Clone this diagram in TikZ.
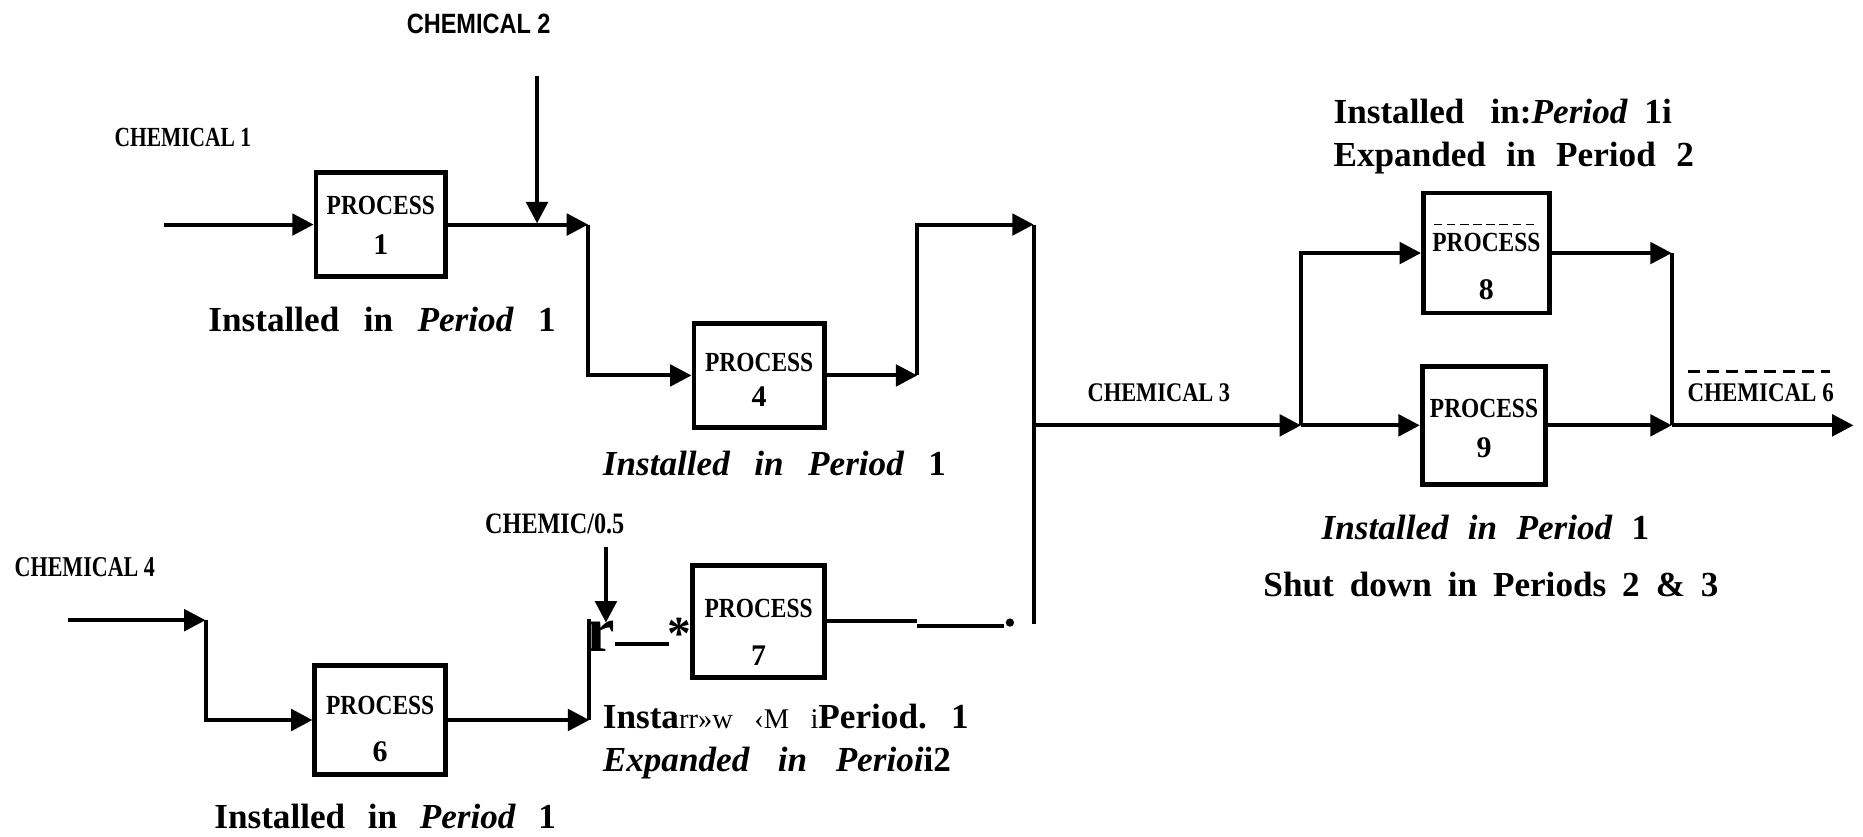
\documentclass[tikz,border=0pt]{standalone}
\usepackage{fontspec}
\setmainfont{Liberation Serif}
\newfontfamily\sansf{Liberation Sans}
\usetikzlibrary{arrows.meta,calc}
\newcommand{\fitbox}[3]{\resizebox{#1}{#2}{#3}}
\newcommand{\wsp}[1]{\spaceskip=#1\relax}
\newcommand{\procword}{\fitbox{45.5pt}{7.7pt}{\bfseries PROCESS}}
\newcommand{\digitfont}{\fontsize{12.6}{14}\selectfont\bfseries}
\begin{document}
\begin{tikzpicture}[x=0.5pt,y=-0.5pt,
  procbox/.style={draw, line width=2pt, inner sep=0pt},
  wire/.style={line width=1.7pt, line join=miter},
  arr/.style={wire, -{Triangle[length=9pt,width=9pt]}},
  ptxt/.style={inner sep=0pt},
  chem/.style={inner sep=0pt, anchor=base west},
  capt/.style={inner sep=0pt, anchor=base west, font=\fontsize{14.8}{17}\selectfont\bfseries},
  garble/.style={inner sep=0pt, anchor=base, font=\bfseries},
]
\useasboundingbox (0,0) rectangle (1568,704);

% ---------- process boxes ----------
\node[procbox, minimum width=54.5pt, minimum height=44pt] (p1) at (320.5,189) {};
\node[procbox, minimum width=55pt, minimum height=43.5pt] (p4) at (639,316) {};
\node[procbox, minimum width=55pt, minimum height=46pt] (p6) at (320,606) {};
\node[procbox, minimum width=55.5pt, minimum height=47pt] (p7) at (638.5,523) {};
\node[procbox, minimum width=53pt, minimum height=50.5pt] (p8) at (1251,213) {};
\node[procbox, minimum width=52pt, minimum height=49.5pt] (p9) at (1249,358) {};

\node[ptxt] (p1a) at ($(p1)+(0,-16)$) {\procword};
\node[ptxt] (p1b) at ($(p1)+(0,17)$) {\digitfont 1};
\node[ptxt] (p4a) at ($(p4)+(0,-11)$) {\procword};
\node[ptxt] (p4b) at ($(p4)+(0,18)$) {\digitfont 4};
\node[ptxt] (p6a) at ($(p6)+(0,-12.5)$) {\procword};
\node[ptxt] (p6b) at ($(p6)+(0,27)$) {\digitfont 6};
\node[ptxt] (p7a) at ($(p7)+(0,-11)$) {\procword};
\node[ptxt] (p7b) at ($(p7)+(0,29)$) {\digitfont 7};
\node[ptxt] (p8a) at ($(p8)+(0,-9)$) {\procword};
\node[ptxt] (p8b) at ($(p8)+(0,31)$) {\digitfont 8};
\node[ptxt] (p9a) at ($(p9)+(0,-14)$) {\procword};
\node[ptxt] (p9b) at ($(p9)+(0,19)$) {\digitfont 9};
\draw[line width=0.6pt, dash pattern=on 3.5pt off 2pt] ($(p8)+(-44,-24)$) -- ($(p8)+(43,-24)$);

% ---------- chemical labels ----------
\node[chem] (ch1) at (96,123.5) {\fitbox{57.5pt}{7.7pt}{\bfseries CHEMICAL 1}};
\node[chem] (ch2) at (342,28) {\fitbox{60.5pt}{8.2pt}{\sansf\bfseries CHEMICAL 2}};
\node[chem] (ch3) at (915,338) {\fitbox{60pt}{7.5pt}{\bfseries CHEMICAL 3}};
\node[chem] (ch4) at (12,485.5) {\fitbox{59pt}{8pt}{\bfseries CHEMICAL 4}};
\node[chem] (ch5) at (408,449) {\fitbox{58.5pt}{8.3pt}{\bfseries CHEMIC/0.5}};
\node[chem] (ch6) at (1420,338) {\fitbox{61.5pt}{7.5pt}{\bfseries CHEMICAL 6}};
\draw[line width=1.2pt, dash pattern=on 5pt off 3pt] (1421,313) -- (1540,313);

% ---------- captions ----------
\node[capt] (cap1) at (175,279) {\wsp{10.3pt}Installed in \textit{Period} 1};
\node[capt] (cap4) at (507,400) {\wsp{10.3pt}\itshape Installed in Period \upshape 1};
\node[capt] (cap6) at (180,697) {\wsp{9.5pt}Installed in \textit{Period} 1};
\node[capt] (cap8a) at (1122,104) {Installed\hspace{11pt}in:\textit{Period}\hspace{7pt}1i};
\node[capt] (cap8b) at (1122,140.5) {\wsp{8.6pt}Expanded in Period 2};
\node[capt] (cap9a) at (1112,454) {\wsp{8.1pt}\itshape Installed in Period \upshape 1};
\node[capt] (cap9b) at (1063,502) {\wsp{6.7pt}Shut down in Periods 2 \& 3};
\node[capt] (cap7a) at (507,613) {\wsp{9pt}Insta{\mdseries\fontsize{12}{14}\selectfont rr»w ‹M i}Period. 1};
\node[capt] (cap7b) at (507,649) {\wsp{12pt}\itshape Expanded in Perioi\upshape i2};

% ---------- connectors: upper branch ----------
\coordinate (c1) at (138,189);
\draw[arr] (c1) -- (p1.west);
\coordinate (j1) at (495,189);
\draw[arr] (p1.east) -- (j1);
\draw[arr] (j1) -- (j1 |- p4.west) -- (p4.west);
\coordinate (c2) at (452,64);
\coordinate (c2e) at (452,188);
\draw[arr] (c2) -- (c2e);
\coordinate (j2) at (772,316);
\coordinate (j2t) at (772,189);
\coordinate (j3) at (870,189);
\draw[arr] (p4.east) -- (j2);
\draw[arr] (j2) -- (j2t) -- (j3);
\coordinate (b1) at (870,525);
\draw[wire] (j3) -- (b1);

% ---------- connectors: right part ----------
\coordinate (b2) at (870,358);
\coordinate (j5) at (1095,358);
\draw[arr] (b2) -- (j5);
\draw[arr] (j5) -- (j5 |- p8.west) -- (p8.west);
\draw[arr] (j5) -- (p9.west);
\coordinate (j6) at (1407,213);
\coordinate (j7) at (1407,358);
\draw[arr] (p8.east) -- (j6);
\draw[wire] (j6) -- (j7);
\draw[arr] (p9.east) -- (j7);
\coordinate (out) at (1560,358);
\draw[arr] (j7) -- (out);

% ---------- connectors: lower branch ----------
\coordinate (c4) at (57,522);
\coordinate (j8) at (173,522);
\draw[arr] (c4) -- (j8);
\draw[arr] (j8) -- (j8 |- p6.west) -- (p6.west);
\coordinate (j9) at (496,606);
\coordinate (j9t) at (496,521);
\draw[arr] (p6.east) -- (j9);
\draw[wire] (j9) -- (j9t);
\coordinate (c5) at (510,460);
\coordinate (c5e) at (510,524);
\draw[arr] (c5) -- (c5e);
\node[garble, font=\fontsize{27}{30}\selectfont\bfseries] (rr) at (506,548) {r};
\coordinate (d1) at (518,542);
\coordinate (d2) at (563,542);
\draw[wire] (d1) -- (d2);
\node[garble, font=\fontsize{20}{22}\selectfont\bfseries] (st) at (572,547) {*};
\coordinate (j10) at (772,523);
\coordinate (j11) at (772,527);
\coordinate (j12) at (845,527);
\draw[wire] (p7.east) -- (j10);
\draw[wire] (j11) -- (j12);
\node[circle, fill, inner sep=0pt, minimum size=3.5pt] (dot7) at (850,524) {};
\end{tikzpicture}
\end{document}
